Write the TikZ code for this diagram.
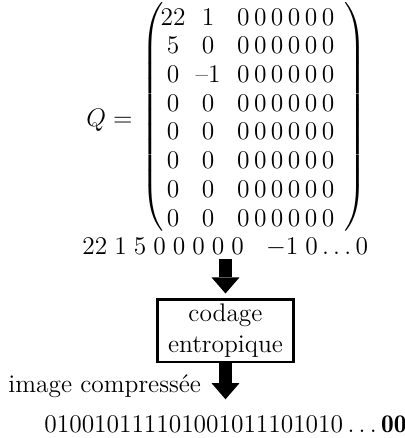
\documentclass[tikz,border=0pt]{standalone}
\usepackage{fontspec}
\usepackage{amsmath}
\usetikzlibrary{arrows.meta}
\begin{document}
\begin{tikzpicture}[x=0.4717pt,y=-0.4717pt,
  every node/.style={font=\fontsize{12}{14.5}\selectfont},
  entry/.style={inner sep=0pt},
  delim/.style={inner sep=0pt},
  codebox/.style={draw,line width=1.4pt,align=center,minimum width=63.7pt,
    minimum height=29.7pt,inner xsep=3pt,inner ysep=2pt},
  bigarrow/.style={line width=6.1pt,
    -{Triangle[width=13.2pt,length=7.6pt,line width=0pt]}}]
\useasboundingbox (0,0) rectangle (405,438);

% the quantised block Q
\node[anchor=west,inner sep=0pt] (Q) at (86,120) {$Q=$};
\node[delim] (lp) at (154,117)
  {$\delimiterfactor=1000\delimitershortfall=0pt\left(\vcenter to 103pt{\vfil}\right.$};
\node[delim] (rp) at (354,117)
  {$\delimiterfactor=1000\delimitershortfall=0pt\left.\vcenter to 103pt{\vfil}\right)$};
\foreach \r/\a/\b in {1/22/1,2/5/0,3/0/\textendash1,4/0/0,5/0/0,6/0/0,7/0/0,8/0/0}{
  \pgfmathsetmacro\yy{17+28.7*(\r-1)}
  \node[entry] (m-\r-1) at (173,\yy) {\a};
  \node[entry] (m-\r-2) at (208,\yy) {\b};
  \foreach \c in {3,...,8}{
    \node[entry] (m-\r-\c) at ({243.3+16.95*(\c-3)},\yy) {0};
  }
}

% zigzag sequence
\node[anchor=west,inner sep=0pt] (zz) at (82,247)
  {$22\;1\;5\;0\;0\;0\;0\;0\hspace{10.4pt}{-}1\;0\ldots0$};

% entropy coder
\node[codebox] (box) at (225.5,330.5) {codage\\entropique};
\draw[bigarrow,shorten <=1.3pt,shorten >=1.9pt] (zz.south -| box.north) -- (box.north);

% output bit stream
\node[anchor=base west,inner sep=0pt] (lbl) at (8,392) {image compressée};
\node[inner sep=0pt] (bits) at (225.5,424.5)
  {$010010111101001011101010\ldots\mathbf{00}$};
\draw[bigarrow,shorten >=7.7pt] (box.south) -- (bits.north);
\end{tikzpicture}
\end{document}
